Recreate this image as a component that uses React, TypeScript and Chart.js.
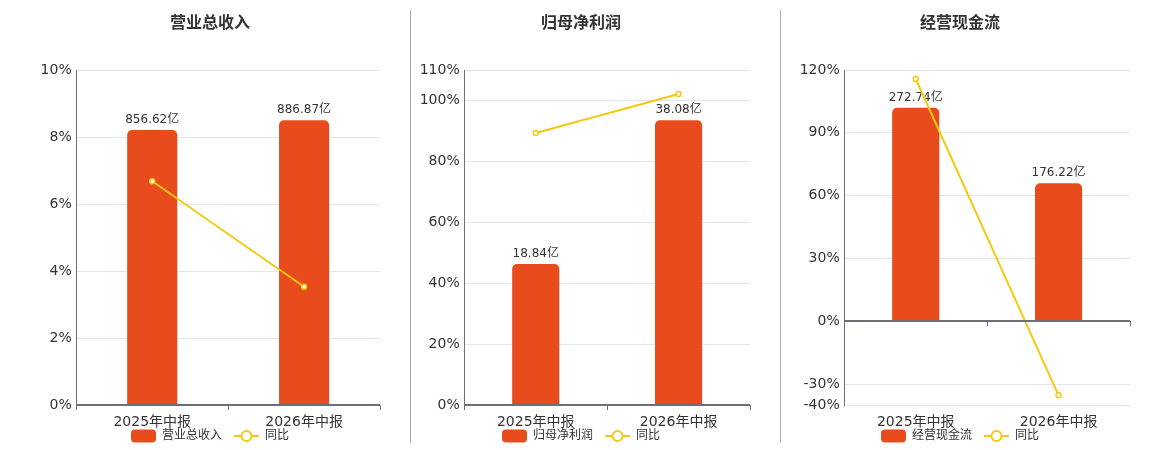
import React, { useEffect, useRef } from 'react';
import Chart from 'chart.js/auto';

const categories = ['2025年中报', '2026年中报'];

const revenueValues = [856.62, 886.87];
const revenueYoy = [6.68, 3.53];
const revenueTicks = [0, 2, 4, 6, 8, 10];

const profitValues = [18.84, 38.08];
const profitYoy = [89.3, 102.1];
const profitTicks = [0, 20, 40, 60, 80, 100, 110];

const cashValues = [272.74, 176.22];
const cashYoy = [115.7, -35.4];
const cashTicks = [-40, -30, 0, 30, 60, 90, 120];

const BAR_COLOR = '#E84C1D';
const LINE_COLOR = '#F5C911';
const AXIS_COLOR = '#6E7079';
const FONT = '"DejaVu Sans", "Noto Sans CJK SC", sans-serif';

Chart.defaults.font.family = FONT;

function barIcon() {
  const c = document.createElement('canvas');
  c.width = 25;
  c.height = 14;
  const ctx = c.getContext('2d')!;
  ctx.fillStyle = BAR_COLOR;
  ctx.beginPath();
  ctx.roundRect(0, 0.5, 25, 13, 4);
  ctx.fill();
  return c;
}

function lineIcon() {
  const c = document.createElement('canvas');
  c.width = 25;
  c.height = 14;
  const ctx = c.getContext('2d')!;
  ctx.strokeStyle = LINE_COLOR;
  ctx.lineWidth = 2;
  ctx.beginPath();
  ctx.moveTo(0, 7);
  ctx.lineTo(25, 7);
  ctx.stroke();
  ctx.beginPath();
  ctx.arc(12.5, 7, 5, 0, Math.PI * 2);
  ctx.fillStyle = '#fff';
  ctx.fill();
  ctx.stroke();
  return c;
}

// value labels above the bars, drawn before the line so the line sits on top
const barLabels = {
  id: 'barLabels',
  afterDatasetDraw(chart: any, args: any) {
    if (args.index !== 0) return;
    const { ctx } = chart;
    const data = chart.data.datasets[0].data as number[];
    ctx.save();
    ctx.font = `12px ${FONT}`;
    ctx.fillStyle = '#333';
    ctx.textAlign = 'center';
    ctx.textBaseline = 'bottom';
    args.meta.data.forEach((el: any, i: number) => {
      ctx.fillText(data[i].toFixed(2) + '亿', el.x, el.y - 4);
    });
    ctx.restore();
  },
};

// category axis line drawn at y = 0 with ticks at category boundaries
const zeroAxis = {
  id: 'zeroAxis',
  afterLayout(chart: any) {
    // x axis is squeezed to 13px so the legend sits close; let its labels draw below it
    chart.scales.x.bottom = chart.height;
  },
  afterDatasetsDraw(chart: any) {
    const { ctx, chartArea, scales } = chart;
    const y0 = Math.round(scales.y.getPixelForValue(0));
    const n = chart.data.labels.length;
    ctx.save();
    ctx.strokeStyle = AXIS_COLOR;
    ctx.lineWidth = 1;
    ctx.beginPath();
    for (let i = 0; i <= n; i++) {
      const x = Math.round(chartArea.left + (chartArea.width * i) / n) + 0.5;
      ctx.moveTo(x, y0);
      ctx.lineTo(x, y0 + 5);
    }
    ctx.stroke();
    ctx.lineWidth = 2;
    ctx.beginPath();
    ctx.moveTo(chartArea.left, y0);
    ctx.lineTo(chartArea.right, y0);
    ctx.stroke();
    ctx.restore();
  },
};

interface PanelProps {
  left: number;
  width: number;
  padL: number;
  padR: number;
  axisW: number;
  title: string;
  barLabel: string;
  values: number[];
  yoy: number[];
  ticks: number[];
}

function Panel({ left, width, padL, padR, axisW, title, barLabel, values, yoy, ticks }: PanelProps) {
  const canvasRef = useRef<HTMLCanvasElement>(null);

  useEffect(() => {
    if (!canvasRef.current) return;
    const yMin = ticks[0];
    const yMax = ticks[ticks.length - 1];
    const barMax = Math.max(...values) / 0.85;
    const barMin = (barMax * yMin) / yMax;
    const icons = [barIcon(), lineIcon()];

    const chart = new Chart(canvasRef.current, {
      type: 'bar',
      data: {
        labels: categories,
        datasets: [
          {
            type: 'bar',
            label: barLabel,
            data: values,
            yAxisID: 'y1',
            backgroundColor: BAR_COLOR,
            borderRadius: 5,
            barPercentage: 0.33,
            categoryPercentage: 1,
            order: 2,
          },
          {
            type: 'line',
            label: '同比',
            data: yoy,
            yAxisID: 'y',
            borderColor: LINE_COLOR,
            borderWidth: 2,
            pointRadius: 2.5,
            pointBorderWidth: 1.5,
            pointBackgroundColor: '#fff',
            pointBorderColor: LINE_COLOR,
            tension: 0,
            order: 1,
          } as any,
        ],
      },
      options: {
        animation: false,
        responsive: false,
        maintainAspectRatio: false,
        layout: { padding: { left: padL, right: padR, top: 0, bottom: 0 } },
        plugins: {
          title: {
            display: true,
            text: title,
            color: '#333',
            font: { size: 16, weight: 'bold' },
            padding: { top: 14.4, bottom: 36.4 },
          },
          legend: {
            position: 'bottom',
            labels: {
              usePointStyle: true,
              pointStyleWidth: 25,
              padding: 12,
              color: '#333',
              font: { size: 12 },
              generateLabels: () => [
                { text: barLabel, pointStyle: icons[0], datasetIndex: 0, hidden: false, lineWidth: 0, fontColor: '#333' },
                { text: '同比', pointStyle: icons[1], datasetIndex: 1, hidden: false, lineWidth: 0, fontColor: '#333' },
              ] as any,
            },
          },
          tooltip: { enabled: false },
        },
        scales: {
          x: {
            grid: { display: false },
            border: { display: false },
            ticks: { color: '#333', font: { size: 14 }, padding: 1 },
            afterFit: (a: any) => {
              a.height = 13;
            },
          },
          y: {
            position: 'left',
            min: yMin,
            max: yMax,
            afterBuildTicks: (a: any) => {
              a.ticks = ticks.map((v) => ({ value: v }));
            },
            grid: { color: '#E0E6F1', drawTicks: false },
            border: { display: true, color: AXIS_COLOR },
            ticks: { color: '#333', font: { size: 14 }, padding: 4.6, callback: (v: any) => v + '%' },
            afterFit: (a: any) => {
              a.width = axisW;
            },
          },
          y1: { display: false, min: barMin, max: barMax },
        },
      },
      plugins: [barLabels, zeroAxis],
    });

    return () => {
      chart.destroy();
    };
  }, [left, width, padL, padR, axisW, title, barLabel, values, yoy, ticks]);

  return (
    <canvas
      ref={canvasRef}
      width={width}
      height={452}
      style={{ position: 'absolute', left, top: 0 }}
    />
  );
}

export default function App() {
  const sep = { position: 'absolute' as const, top: 10, width: 1, height: 433, background: '#aaa' };
  return (
    <div style={{ position: 'fixed', left: 0, top: 0, width: 1160, height: 450, background: '#fff', overflow: 'hidden' }}>
      <Panel left={0} width={410} padL={40} padR={30} axisW={36.3} title="营业总收入" barLabel="营业总收入" values={revenueValues} yoy={revenueYoy} ticks={revenueTicks} />
      <Panel left={410} width={360} padL={2} padR={20} axisW={52.3} title="归母净利润" barLabel="归母净利润" values={profitValues} yoy={profitYoy} ticks={profitTicks} />
      <Panel left={780} width={370} padL={10} padR={20} axisW={54.3} title="经营现金流" barLabel="经营现金流" values={cashValues} yoy={cashYoy} ticks={cashTicks} />
      <div style={{ ...sep, left: 410 }} />
      <div style={{ ...sep, left: 780 }} />
    </div>
  );
}
